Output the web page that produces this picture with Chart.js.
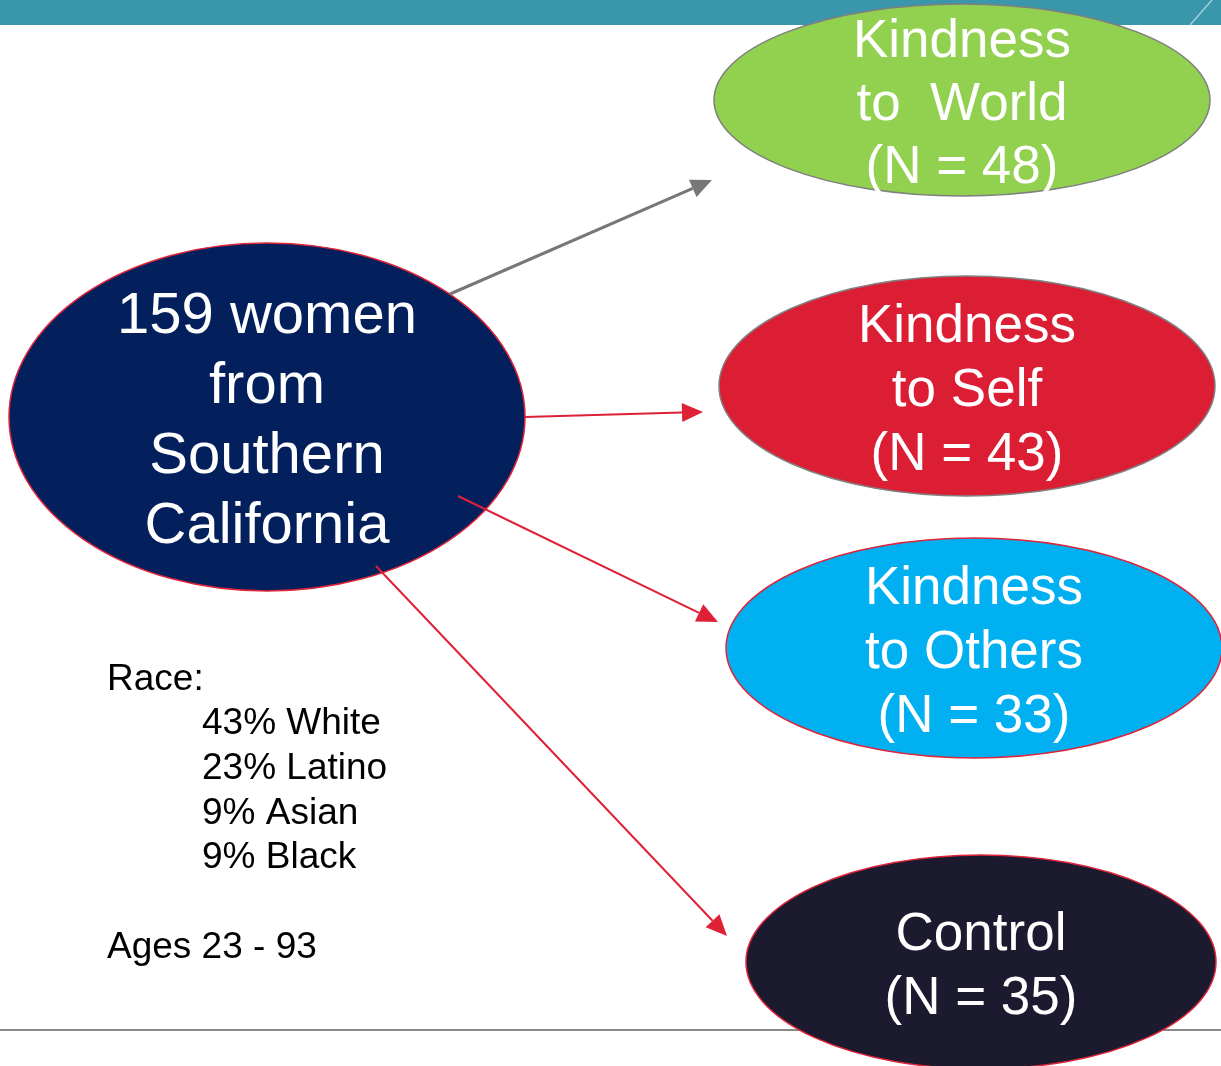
<!DOCTYPE html>
<html>
<head>
<meta charset="utf-8">
<script src="https://cdn.jsdelivr.net/npm/chart.js@4"></script>
<style>
  html, body { margin: 0; padding: 0; background: #ffffff; }
  canvas { display: block; }
</style>
</head>
<body>
<canvas id="diagrama" width="1221" height="1066"></canvas>
<script>
// nodes of the study design (centres in diagram units, y grows downward)
const nodeNames = ['Muestra', 'World', 'Self', 'Others', 'Control'];
const nodeX = [267, 962, 967, 974, 981];
const nodeY = [417, 100, 386, 648, 962];
const nodeText = [
  ['159 women', 'from', 'Southern', 'California'],
  ['Kindness', 'to  World', '(N = 48)'],
  ['Kindness', 'to Self', '(N = 43)'],
  ['Kindness', 'to Others', '(N = 33)'],
  ['Control', '(N = 35)']
];

// arrows: from point -> to point
const arrowFromX = [450, 525, 458, 376];
const arrowFromY = [294, 417, 496, 566];
const arrowToX = [712, 703, 718, 727];
const arrowToY = [180, 412, 622, 936];

const raceTitle = 'Race:';
const raceLines = ['43% White', '23% Latino', '9% Asian', '9% Black'];
const agesLine = 'Ages 23 - 93';

// estilos
const ellipseStyle = [
  { rx: 258, ry: 174, fill: '#03205C', stroke: '#E0243A', size: 58, gap: 70 },
  { rx: 248, ry: 96,  fill: '#92D050', stroke: '#7F7F7F', size: 53, gap: 63 },
  { rx: 248, ry: 110, fill: '#DC1E34', stroke: '#808080', size: 53, gap: 64 },
  { rx: 248, ry: 110, fill: '#00B0F0', stroke: '#E0243A', size: 53, gap: 64 },
  { rx: 235, ry: 107, fill: '#1B1A2E', stroke: '#E0243A', size: 53, gap: 64 }
];
const arrowColor = ['#777777', '#DE2137', '#DE2137', '#DE2137'];
const arrowWidth = [3, 2, 2, 2];
const FONT = '"Liberation Sans", Arial, sans-serif';

const dibujo = {
  id: 'dibujo',
  beforeDatasetsDraw(chart) {
    const ctx = chart.ctx;
    const sx = chart.scales.x, sy = chart.scales.y;
    const px = v => sx.getPixelForValue(v);
    const py = v => sy.getPixelForValue(v);
    const kx = Math.abs(px(1) - px(0)), ky = Math.abs(py(1) - py(0));
    ctx.save();

    // top band
    ctx.fillStyle = '#3A96AB';
    ctx.fillRect(px(0), py(0), px(1221) - px(0), py(25) - py(0));
    ctx.strokeStyle = '#9FCFDB';
    ctx.lineWidth = 1.5;
    ctx.beginPath();
    ctx.moveTo(px(1190), py(25));
    ctx.lineTo(px(1212), py(0));
    ctx.stroke();

    // bottom rule
    ctx.fillStyle = '#8A8A8A';
    ctx.fillRect(px(0), py(1029), px(1221) - px(0), 2 * ky);

    // ellipses
    nodeNames.forEach((n, i) => {
      const st = ellipseStyle[i];
      ctx.beginPath();
      ctx.ellipse(px(nodeX[i]), py(nodeY[i]), st.rx * kx, st.ry * ky, 0, 0, Math.PI * 2);
      ctx.fillStyle = st.fill;
      ctx.fill();
      ctx.lineWidth = 1.5;
      ctx.strokeStyle = st.stroke;
      ctx.stroke();
    });

    // arrows
    arrowFromX.forEach((x0, i) => {
      const x1 = px(x0), y1 = py(arrowFromY[i]);
      const x2 = px(arrowToX[i]), y2 = py(arrowToY[i]);
      const ang = Math.atan2(y2 - y1, x2 - x1);
      const len = 21, half = 9.5;
      const bx = x2 - len * Math.cos(ang), by = y2 - len * Math.sin(ang);
      ctx.strokeStyle = arrowColor[i];
      ctx.fillStyle = arrowColor[i];
      ctx.lineWidth = arrowWidth[i];
      ctx.beginPath();
      ctx.moveTo(x1, y1);
      ctx.lineTo(bx, by);
      ctx.stroke();
      ctx.beginPath();
      ctx.moveTo(x2, y2);
      ctx.lineTo(bx + half * Math.sin(ang), by - half * Math.cos(ang));
      ctx.lineTo(bx - half * Math.sin(ang), by + half * Math.cos(ang));
      ctx.closePath();
      ctx.fill();
    });

    // node text
    ctx.fillStyle = '#ffffff';
    ctx.textAlign = 'center';
    ctx.textBaseline = 'middle';
    nodeText.forEach((lines, i) => {
      const st = ellipseStyle[i];
      ctx.font = st.size + 'px ' + FONT;
      const top = nodeY[i] - (lines.length - 1) * st.gap / 2;
      lines.forEach((t, j) => {
        ctx.fillText(t, px(nodeX[i]), py(top + j * st.gap) + 5);
      });
    });

    // demographics
    ctx.fillStyle = '#000000';
    ctx.textAlign = 'left';
    ctx.font = '37px ' + FONT;
    ctx.fillText(raceTitle, px(107), py(680));
    raceLines.forEach((t, j) => ctx.fillText(t, px(202), py(724 + j * 44.7)));
    ctx.fillText(agesLine, px(107), py(948));

    ctx.restore();
  }
};

const ctxDiagrama = document.getElementById('diagrama').getContext('2d');
const grafDiagrama = new Chart(ctxDiagrama, {
  type: 'scatter',
  data: {
    labels: nodeNames,
    datasets: [{
      label: 'nodos',
      data: nodeNames.map((n, i) => ({ x: nodeX[i], y: nodeY[i] })),
      pointRadius: 0,
      pointHoverRadius: 0
    }]
  },
  options: {
    responsive: false,
    animation: false,
    layout: { padding: 0 },
    plugins: { legend: { display: false }, tooltip: { enabled: false } },
    scales: {
      x: { type: 'linear', min: 0, max: 1221, display: false },
      y: { type: 'linear', min: 0, max: 1066, reverse: true, display: false }
    }
  },
  plugins: [dibujo]
});
</script>
</body>
</html>
